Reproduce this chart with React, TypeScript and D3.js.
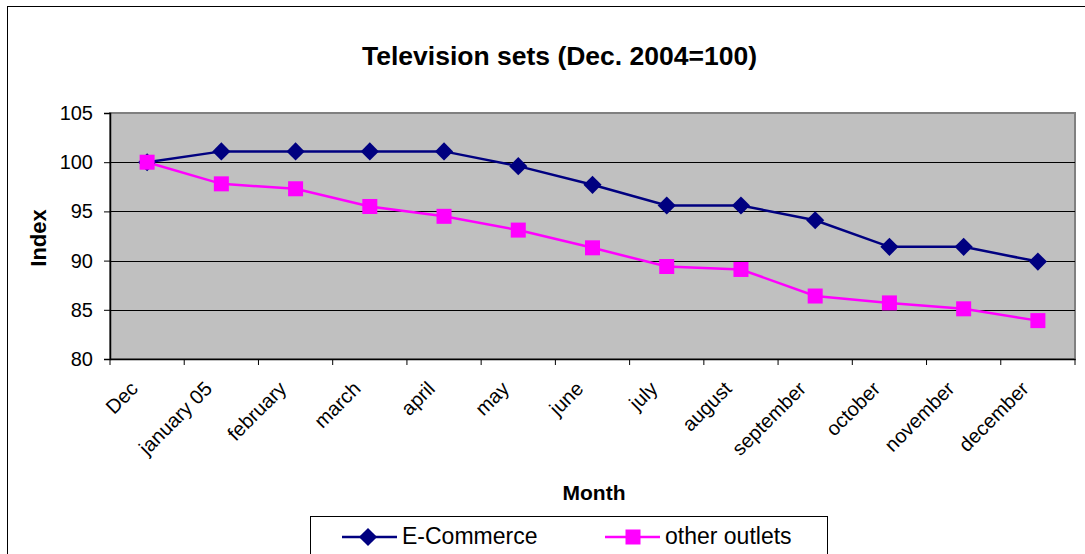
import React, { useEffect, useRef } from "react";
import * as d3 from "d3";

const months = [
  "Dec",
  "january 05",
  "february",
  "march",
  "april",
  "may",
  "june",
  "july",
  "august",
  "september",
  "october",
  "november",
  "december",
];
const eCommerce = [100, 101.1, 101.1, 101.1, 101.1, 99.6, 97.7, 95.6, 95.6, 94.1, 91.4, 91.4, 89.9];
const otherOutlets = [100, 97.8, 97.3, 95.5, 94.5, 93.1, 91.3, 89.4, 89.1, 86.4, 85.7, 85.1, 83.9];
const yTicks = [80, 85, 90, 95, 100, 105];

const FONT = "Arial, 'Liberation Sans', sans-serif";

const App = () => {
  const svgRef = useRef(null);

  useEffect(() => {
    const svg = d3.select(svgRef.current);
    svg.selectAll("*").remove();

    // plot area
    const left = 110,
      right = 1075,
      top = 113,
      bottom = 359;

    const x = d3.scaleBand().domain(months).range([left, right]);
    const y = d3.scaleLinear().domain([80, 105]).range([bottom, top]);
    const cx = (m) => x(m) + x.bandwidth() / 2;

    // outer chart border
    svg
      .append("rect")
      .attr("x", 7.5)
      .attr("y", 6.5)
      .attr("width", 1100)
      .attr("height", 600)
      .attr("fill", "white")
      .attr("stroke", "black")
      .attr("stroke-width", 1);

    // title
    svg
      .append("text")
      .attr("x", 559.5)
      .attr("y", 65)
      .attr("text-anchor", "middle")
      .attr("font-family", FONT)
      .attr("font-weight", "bold")
      .attr("font-size", 26.5)
      .text("Television sets (Dec. 2004=100)");

    // plot background
    svg
      .append("rect")
      .attr("x", left)
      .attr("y", top)
      .attr("width", right - left)
      .attr("height", bottom - top)
      .attr("fill", "#C0C0C0")
      .attr("stroke", "#808080")
      .attr("stroke-width", 2);

    // gridlines
    svg
      .append("g")
      .selectAll("line")
      .data(yTicks.filter((t) => t > 80 && t < 105))
      .join("line")
      .attr("x1", left)
      .attr("x2", right)
      .attr("y1", (d) => Math.round(y(d)) + 0.5)
      .attr("y2", (d) => Math.round(y(d)) + 0.5)
      .attr("stroke", "black")
      .attr("stroke-width", 1);

    // y axis
    const yAxis = svg
      .append("g")
      .attr("transform", `translate(${left},0)`)
      .call(d3.axisLeft(y).tickValues(yTicks).tickSize(6).tickPadding(11));
    yAxis.select(".domain").attr("stroke", "black").attr("stroke-width", 1.5);
    yAxis.selectAll("line").attr("stroke", "black");
    yAxis
      .selectAll("text")
      .attr("font-family", FONT)
      .attr("font-size", 20)
      .attr("fill", "black");

    // x axis
    const xAxis = svg
      .append("g")
      .attr("transform", `translate(0,${bottom})`)
      .call(d3.axisBottom(x).tickSize(0).tickFormat(() => ""));
    xAxis.select(".domain").attr("stroke", "black").attr("stroke-width", 1.5);

    // category boundary ticks
    const bounds = months.map((m) => x(m)).concat([right]);
    svg
      .append("g")
      .selectAll("line")
      .data(bounds)
      .join("line")
      .attr("x1", (d) => d)
      .attr("x2", (d) => d)
      .attr("y1", bottom)
      .attr("y2", bottom + 6)
      .attr("stroke", "black");

    // rotated tick labels
    svg
      .append("g")
      .selectAll("text")
      .data(months)
      .join("text")
      .attr("transform", (d) => `translate(${cx(d) - 8},${bottom + 31}) rotate(-45)`)
      .attr("text-anchor", "end")
      .attr("font-family", FONT)
      .attr("font-size", 20)
      .text((d) => d);

    // axis titles
    svg
      .append("text")
      .attr("transform", `translate(46,238) rotate(-90)`)
      .attr("text-anchor", "middle")
      .attr("font-family", FONT)
      .attr("font-weight", "bold")
      .attr("font-size", 22)
      .text("Index");

    svg
      .append("text")
      .attr("x", 594)
      .attr("y", 500)
      .attr("text-anchor", "middle")
      .attr("font-family", FONT)
      .attr("font-weight", "bold")
      .attr("font-size", 21)
      .text("Month");

    // series lines
    const line = d3
      .line()
      .x((d, i) => cx(months[i]))
      .y((d) => y(d));

    svg
      .append("path")
      .datum(eCommerce)
      .attr("d", line)
      .attr("fill", "none")
      .attr("stroke", "#000080")
      .attr("stroke-width", 2.5);

    svg
      .append("path")
      .datum(otherOutlets)
      .attr("d", line)
      .attr("fill", "none")
      .attr("stroke", "#FF00FF")
      .attr("stroke-width", 2.5);

    // markers
    const diamond = d3.symbol().type(d3.symbolDiamond2).size(210);
    svg
      .append("g")
      .selectAll("path")
      .data(eCommerce)
      .join("path")
      .attr("d", diamond)
      .attr("transform", (d, i) => `translate(${cx(months[i])},${y(d)})`)
      .attr("fill", "#000080");

    svg
      .append("g")
      .selectAll("rect")
      .data(otherOutlets)
      .join("rect")
      .attr("x", (d, i) => cx(months[i]) - 7.5)
      .attr("y", (d) => y(d) - 7.5)
      .attr("width", 15)
      .attr("height", 15)
      .attr("fill", "#FF00FF");

    // legend
    const legend = svg.append("g");
    legend
      .append("rect")
      .attr("x", 310.5)
      .attr("y", 516.5)
      .attr("width", 517)
      .attr("height", 60)
      .attr("fill", "white")
      .attr("stroke", "black");

    const items = [
      { name: "E-Commerce", color: "#000080", x0: 342 },
      { name: "other outlets", color: "#FF00FF", x0: 605 },
    ];
    items.forEach((it, k) => {
      const ly = 537;
      legend
        .append("line")
        .attr("x1", it.x0)
        .attr("x2", it.x0 + 55)
        .attr("y1", ly)
        .attr("y2", ly)
        .attr("stroke", it.color)
        .attr("stroke-width", 2.5);
      if (k === 0) {
        legend
          .append("path")
          .attr("d", diamond)
          .attr("transform", `translate(${it.x0 + 26},${ly})`)
          .attr("fill", it.color);
      } else {
        legend
          .append("rect")
          .attr("x", it.x0 + 28 - 7.5)
          .attr("y", ly - 7.5)
          .attr("width", 15)
          .attr("height", 15)
          .attr("fill", it.color);
      }
      legend
        .append("text")
        .attr("x", it.x0 + 60)
        .attr("y", 544)
        .attr("font-family", FONT)
        .attr("font-size", 23)
        .text(it.name);
    });
  }, []);

  return (
    <svg
      ref={svgRef}
      width={1085}
      height={554}
      style={{ position: "absolute", left: 0, top: 0, display: "block" }}
    />
  );
};

export default App;
